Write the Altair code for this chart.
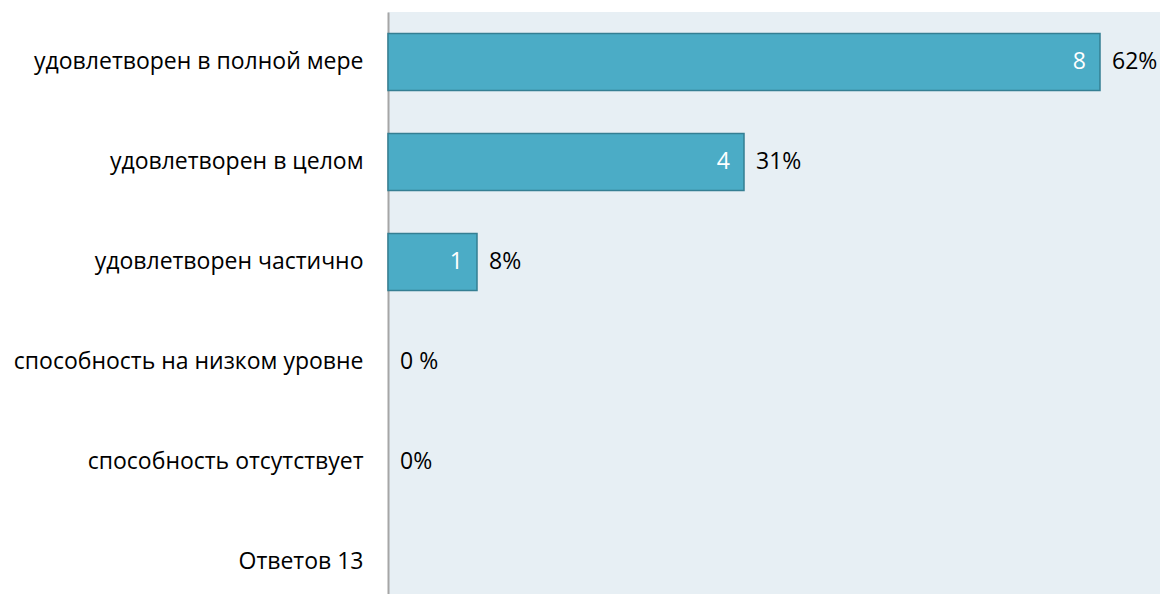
import altair as alt
import pandas as pd

categories = [
    "удовлетворен в полной мере",
    "удовлетворен в целом",
    "удовлетворен частично",
    "способность на низком уровне",
    "способность отсутствует",
    "Ответов 13",
]
counts = [8, 4, 1, 0, 0, None]
pct_labels = ["62%", "31%", "8%", "0 %", "0%", ""]

df = pd.DataFrame({"cat": categories, "count": counts, "pct": pct_labels})
df["count_label"] = df["count"].apply(lambda v: "" if v is None or pd.isna(v) else str(int(v)))
df["xpos"] = df["count"].fillna(0)

FONT = "Open Sans"
FS = 23

PLOT_W = 772
PX_PER_UNIT = 89

y = alt.Y(
    "cat:N",
    scale=alt.Scale(domain=categories, range=[0, 600], paddingInner=0.43, paddingOuter=0.215),
    axis=alt.Axis(
        title=None,
        ticks=False,
        labelPadding=25,
        labelFont=FONT,
        labelFontSize=FS,
        labelColor="#000000",
        labelLimit=400,
        domainColor="#a6a6a6",
        domainWidth=2,
    ),
)
x = alt.X("xpos:Q", scale=alt.Scale(domain=[0, PLOT_W / PX_PER_UNIT], nice=False, zero=True), axis=None)

base = alt.Chart(df)

bars = base.transform_filter("datum.xpos > 0").mark_bar(
    color="#4bacc6", stroke="#357f93", strokeWidth=1.5
).encode(x=x, y=y)

inner = base.transform_filter("datum.xpos > 0").mark_text(
    align="right", baseline="middle", dx=-14, color="#ffffff", font=FONT, fontSize=FS
).encode(x=x, y=y, text="count_label:N")

outer = base.mark_text(
    align="left", baseline="middle", dx=12, color="#000000", font=FONT, fontSize=FS
).encode(x=x, y=y, text="pct:N")

chart = (
    alt.layer(bars, inner, outer)
    .properties(
        width=PLOT_W,
        height=582,
        autosize=alt.AutoSizeParams(type="none"),
        padding={"left": 380, "top": 4, "right": 0, "bottom": 0},
    )
    .configure_view(fill="#e7eff4", stroke=None)
)

chart.save("out.html", embed_options={"renderer": "svg", "actions": False})
